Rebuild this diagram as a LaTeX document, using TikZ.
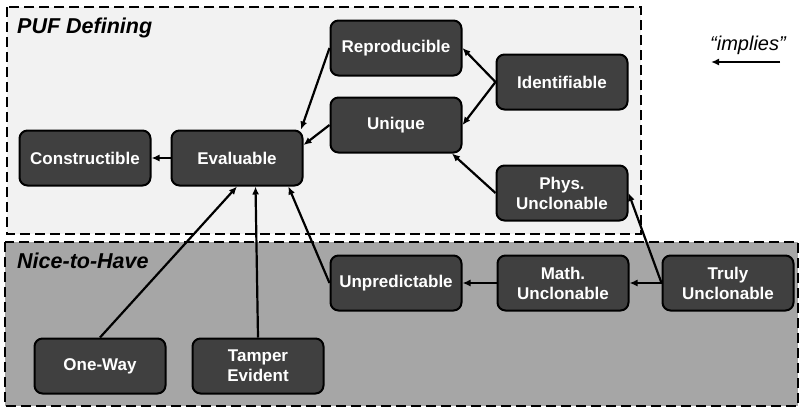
\documentclass[tikz,border=0pt]{standalone}
\usepackage{fontspec}
\setmainfont{Liberation Sans}
\usetikzlibrary{arrows.meta}
\definecolor{boxfill}{HTML}{404040}
\definecolor{topfill}{HTML}{F2F2F2}
\definecolor{botfill}{HTML}{A6A6A6}
\begin{document}
\begin{tikzpicture}[x=1pt,y=-1pt,
  prop/.style={draw=black, line width=2pt, fill=boxfill, rounded corners=8pt,
    minimum width=131pt, minimum height=55pt, text=white,
    font=\fontsize{17}{20}\selectfont\bfseries, align=center, inner sep=0pt},
  imp/.style={-{Latex[length=8pt,width=7pt]}, line width=2.2pt},
  region/.style={dash pattern=on 10pt off 5pt, line width=2pt},
  regtitle/.style={font=\fontsize{21.5}{25}\selectfont\bfseries\itshape, anchor=base west, inner sep=0pt}]
\useasboundingbox (0,0) rectangle (800,408);
\draw[region, fill=topfill] (7,7) rectangle (641,234);
\draw[region, fill=botfill] (5,242) rectangle (798,406);
\node[regtitle] (puf) at (17,33) {PUF Defining};
\node[regtitle] (nth) at (17,268) {Nice-to-Have};
% nodes
\node[prop] (repro)  at (396,48)  {Reproducible};
\node[prop] (ident)  at (562,82)  {Identifiable};
\node[prop] (unique) at (396,125) {Unique};
\node[prop] (constr) at (85,158)  {Constructible};
\node[prop] (eval)   at (237,158) {Evaluable};
\node[prop] (phys)   at (562,193) {Phys.\\Unclonable};
\node[prop] (unpred) at (396,283) {Unpredictable};
\node[prop] (math)   at (563,283) {Math.\\Unclonable};
\node[prop] (truly)  at (728,283) {Truly\\Unclonable};
\node[prop] (oneway) at (100,366) {One-Way};
\node[prop] (tamper) at (258,366) {Tamper\\Evident};
% implications
\draw[imp] (eval.west) -- (constr.east);
\draw[imp] (repro.west) -- (eval.24);
\draw[imp] (unique.west) -- (eval.11);
\draw[imp] (ident.west) -- (repro.east);
\draw[imp] (ident.west) -- (unique.east);
\draw[imp] (phys.west) -- (unique.-27);
\draw[imp] (truly.west) -- (phys.east);
\draw[imp] (truly.west) -- (math.east);
\draw[imp] (math.west) -- (unpred.east);
\draw[imp] (unpred.west) -- (eval.-29);
\draw[imp] (tamper.north) -- (eval.-57);
\draw[imp] (oneway.north) -- (eval.south);
% legend
\node[font=\fontsize{20}{24}\selectfont\itshape, anchor=base, inner sep=0pt] (implies) at (748,50) {“implies”};
\coordinate (la) at (780,62);
\coordinate (lb) at (711,62);
\draw[imp] (la) -- (lb);
\end{tikzpicture}
\end{document}
